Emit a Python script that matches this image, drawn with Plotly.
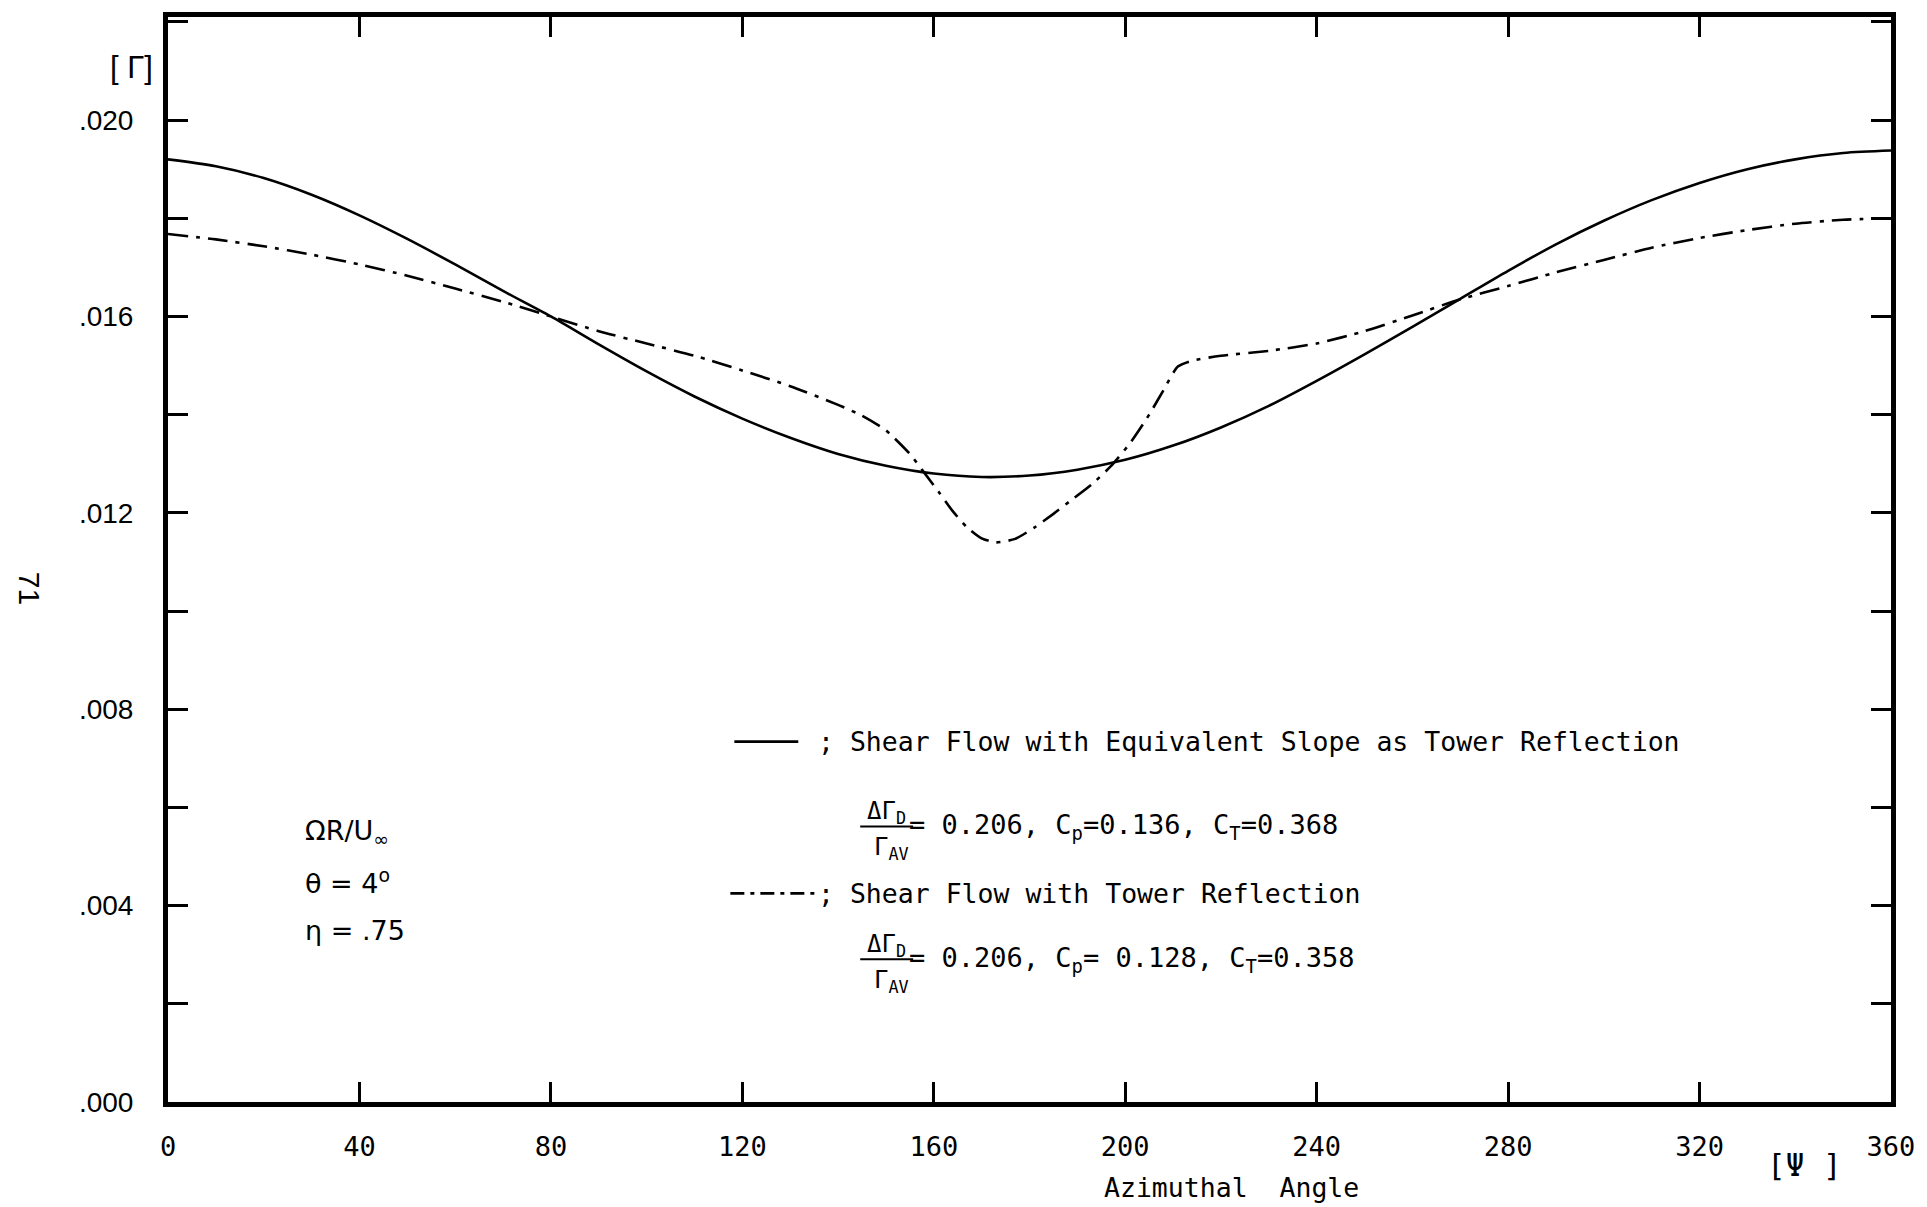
import plotly.graph_objects as go

# ---------------- data ----------------
solid_psi = [0, 10, 20, 30, 40, 50, 60, 70, 80, 90, 100, 110, 120, 130, 140, 150,
             160, 170, 180, 190, 200, 210, 220, 230, 240, 250, 260, 270, 280, 290,
             300, 310, 320, 330, 340, 350, 360]
solid_gamma = [0.0192, 0.01906, 0.01882, 0.01848, 0.01806, 0.01758, 0.01706, 0.01652,
               0.0160, 0.01543, 0.01488, 0.01437, 0.01392, 0.01353, 0.0132, 0.01296,
               0.0128, 0.01273, 0.01276, 0.01288, 0.01308, 0.01337, 0.01374, 0.01418,
               0.01469, 0.01523, 0.01579, 0.01636, 0.01693, 0.01747, 0.01795, 0.01837,
               0.01872, 0.019, 0.0192, 0.01933, 0.01938]

dd_psi = [0, 10, 20, 30, 40, 50, 60, 70, 80, 90, 100, 110, 120, 130, 140, 145, 150,
          155, 158, 161, 164, 167, 170, 173, 177, 181, 185, 189, 193, 197, 201, 205,
          208, 211, 214, 220, 230, 240, 250, 260, 270, 280, 290, 300, 310, 320, 330,
          340, 350, 360]
dd_gamma = [0.01768, 0.01757, 0.01743, 0.01726, 0.01706, 0.01683, 0.01657, 0.0163,
            0.0160, 0.0157, 0.01545, 0.0152, 0.0149, 0.01458, 0.0142, 0.01398, 0.01368,
            0.0132, 0.01282, 0.01243, 0.01203, 0.0117, 0.01148, 0.0114, 0.01147,
            0.0117, 0.01198, 0.01228, 0.01258, 0.01295, 0.01342, 0.014, 0.0145,
            0.01498, 0.0151, 0.0152, 0.0153, 0.01545, 0.0157, 0.01602, 0.01635,
            0.01662, 0.0169, 0.01715, 0.0174, 0.0176, 0.01776, 0.01789, 0.01797, 0.0180]

x_ticks = [0, 40, 80, 120, 160, 200, 240, 280, 320, 360]
x_tick_text = ["0", "40", "80", "120", "160", "200", "240", "280", "320", "360"]
y_ticks = [0.000, 0.004, 0.008, 0.012, 0.016, 0.020]
y_tick_text = [".000", ".004", ".008", ".012", ".016", ".020"]
y_minor_step = 0.002

label_solid = "; Shear Flow with Equivalent Slope as Tower Reflection"
label_dd = "; Shear Flow with Tower Reflection"
coef_solid = "= 0.206, C<sub>p</sub>=0.136, C<sub>T</sub>=0.368"
coef_dd = "= 0.206, C<sub>p</sub>= 0.128, C<sub>T</sub>=0.358"

# ---------------- layout geometry ----------------
W, H = 1927, 1207
L, R, T, B = 168, 1893, 15, 1102


def px(X, Y):
    return (X - L) / (R - L), (B - Y) / (B - T)


MONO = "DejaVu Sans Mono"
SANS = "Liberation Sans"
NB = "\u00a0"

fig = go.Figure()
fig.add_trace(go.Scatter(x=solid_psi, y=solid_gamma, mode="lines",
                         line=dict(color="black", width=2.6, shape="spline", smoothing=0.8),
                         name=label_solid, showlegend=False))
fig.add_trace(go.Scatter(x=dd_psi, y=dd_gamma, mode="lines",
                         line=dict(color="black", width=2.6, shape="spline", smoothing=0.6,
                                   dash="20px,8px,4px,8px"),
                         name=label_dd, showlegend=False))

annotations = []
shapes = []


def ann(text, X, Y, size=26.5, font=MONO, xanchor="left", angle=0):
    x, y = px(X, Y)
    annotations.append(dict(text=text, x=x, y=y, xref="paper", yref="paper",
                            xanchor=xanchor, yanchor="middle", showarrow=False,
                            textangle=angle,
                            font=dict(family=font, size=size, color="black")))


def hline(X0, X1, Y, dash="solid", width=2.6):
    x0, y = px(X0, Y)
    x1, _ = px(X1, Y)
    shapes.append(dict(type="line", xref="paper", yref="paper", x0=x0, x1=x1, y0=y, y1=y,
                       line=dict(color="black", width=width, dash=dash)))


# axis labels
ann("[" + NB + "Γ]", 131, 66, size=31, font=SANS, xanchor="center")
ann("Azimuthal" + NB + NB + "Angle", 1233, 1188, size=26.5, xanchor="center")
ann("[Ψ" + NB + "]", 1806, 1165, size=31, xanchor="center")
ann("71", 29, 587, size=30, font=SANS, xanchor="center", angle=90)

# parameters
ann("ΩR/U<sub>∞</sub>", 303, 832, size=27, font="DejaVu Sans")
ann("θ" + NB + "=" + NB + "4<sup>o</sup>", 303, 881, size=27, font="DejaVu Sans")
ann("η" + NB + "=" + NB + ".75", 303, 930, size=27, font="DejaVu Sans")

# legend block
hline(735, 799, 741)
ann(label_solid, 817, 741)
ann("ΔΓ<sub>D</sub>", 887, 812, size=24, xanchor="center")
hline(861, 914, 826, width=2)
ann("Γ<sub>AV</sub>", 892, 848, size=24, xanchor="center")
ann(coef_solid, 908, 826, size=27)

hline(731, 816, 893, dash="14px,6px,4px,6px")
ann(label_dd, 817, 893)
ann("ΔΓ<sub>D</sub>", 887, 945, size=24, xanchor="center")
hline(861, 914, 959, width=2)
ann("Γ<sub>AV</sub>", 892, 981, size=24, xanchor="center")
ann(coef_dd, 908, 959, size=27)

fig.update_layout(
    width=W, height=H,
    margin=dict(l=L, r=W - R, t=T, b=H - B, pad=0),
    paper_bgcolor="white", plot_bgcolor="white",
    annotations=annotations, shapes=shapes,
    showlegend=False,
)
fig.update_xaxes(range=[0, 360], tickvals=x_ticks, ticktext=x_tick_text,
                 showgrid=False, zeroline=False, showline=True, linewidth=5,
                 linecolor="black", mirror="allticks", ticks="inside", ticklen=20,
                 tickwidth=2.5, tickcolor="black", ticklabelstandoff=17,
                 tickfont=dict(family=MONO, size=27, color="black"))
fig.update_yaxes(range=[0, 0.0221], tickvals=y_ticks, ticktext=y_tick_text,
                 minor=dict(dtick=y_minor_step, tick0=0, ticks="inside", ticklen=20,
                            tickwidth=2.5, tickcolor="black", showgrid=False),
                 showgrid=False, zeroline=False, showline=True, linewidth=5,
                 linecolor="black", mirror="allticks", ticks="inside", ticklen=20,
                 tickwidth=2.5, tickcolor="black", ticklabelstandoff=24,
                 tickfont=dict(family=SANS, size=28, color="black"))

fig.write_html("out.html")
